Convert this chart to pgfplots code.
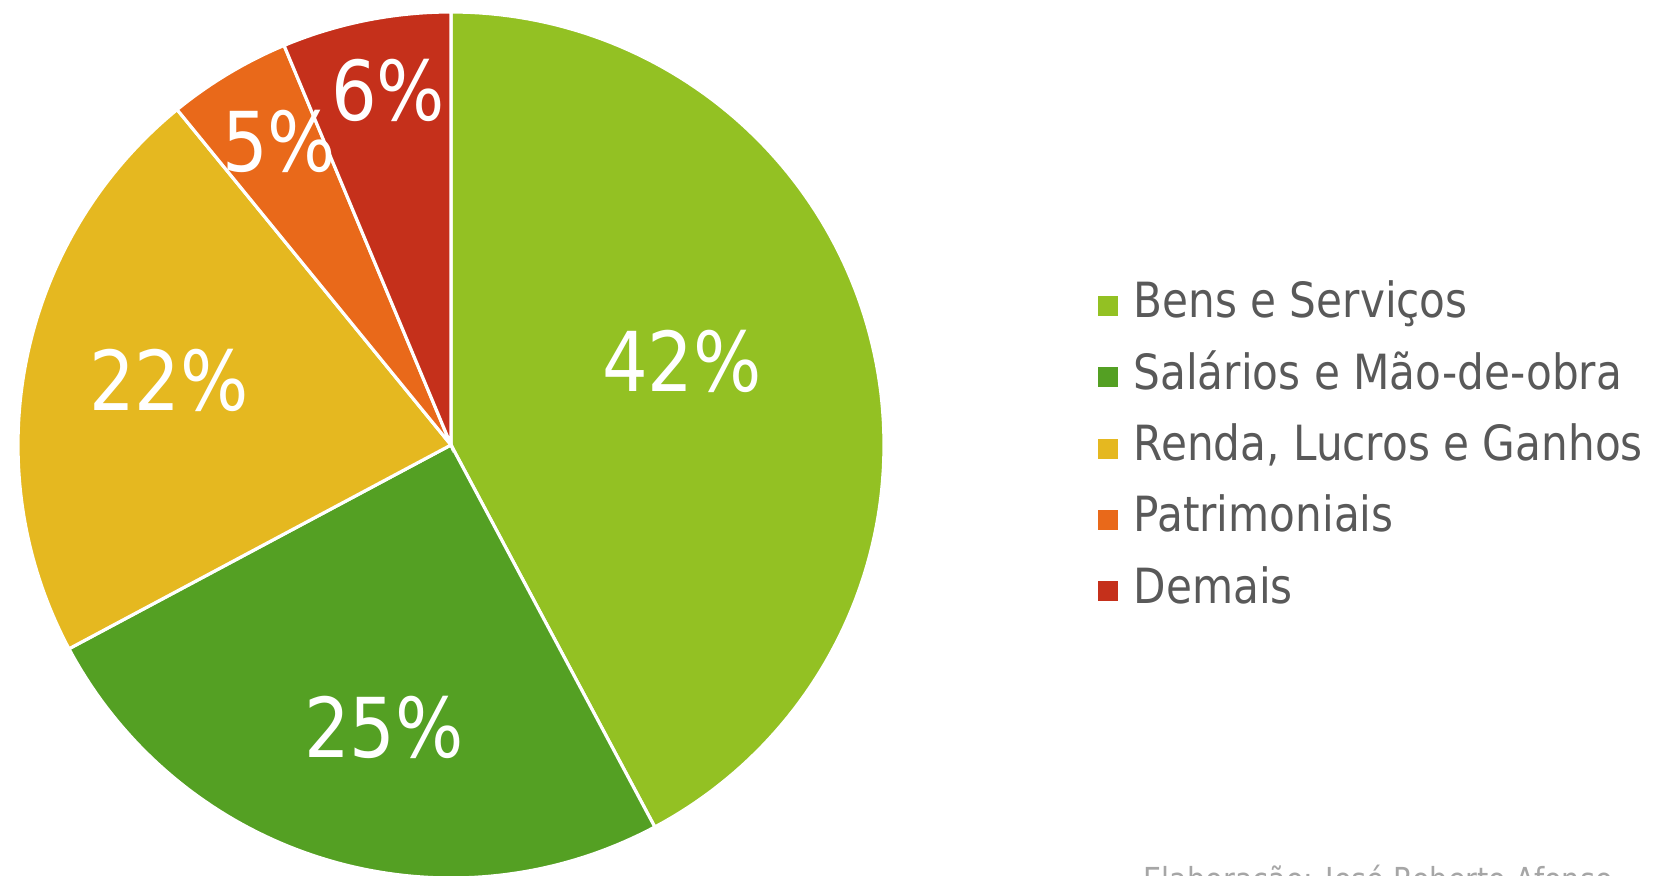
\documentclass[border=0pt]{standalone}
\usepackage{pgfplots}
\pgfplotsset{compat=1.18}
\usepackage{fontspec}
\setmainfont{DejaVu Sans}[FakeStretch=0.87]
\definecolor{cA}{RGB}{147,193,35}
\definecolor{cB}{RGB}{84,160,35}
\definecolor{cC}{RGB}{229,184,32}
\definecolor{cD}{RGB}{233,105,26}
\definecolor{cE}{RGB}{197,48,27}
\definecolor{txt}{RGB}{89,89,89}
\begin{document}%
\begin{tikzpicture}
% shares (percent)
\pgfmathsetmacro\vA{42.2}
\pgfmathsetmacro\vB{25.0}
\pgfmathsetmacro\vC{21.9}
\pgfmathsetmacro\vD{4.6}
\pgfmathsetmacro\vE{6.3}
\pgfmathsetmacro\aO{90}
\pgfmathsetmacro\aA{\aO-3.6*\vA}
\pgfmathsetmacro\aB{\aA-3.6*\vB}
\pgfmathsetmacro\aC{\aB-3.6*\vC}
\pgfmathsetmacro\aD{\aC-3.6*\vD}
\pgfmathsetmacro\aE{\aD-3.6*\vE}
\begin{axis}[
  at={(0,0)}, anchor=south west,
  scale only axis, width=165.5mm, height=87.6mm,
  xmin=0, xmax=1655, ymin=0, ymax=876,
  hide axis, clip=true,
  legend image code/.code={\path[#1, draw=none] (0mm,-1.0mm) rectangle (2.0mm,1.0mm);\path (3.4mm,0mm);},
  legend cell align=left,
  legend style={at={(axis cs:1098,594)}, anchor=north west, draw=none, fill=none,
    inner sep=0pt, outer sep=0pt, row sep=2.33mm,
    font=\fontsize{13.8}{16}\selectfont, text=txt,
    nodes={inner sep=0pt, text height=3.6mm, text depth=1.2mm}},
]
\addplot[fill=cA, draw=white, line width=0.9pt, domain=\aA:\aO, samples=120, variable=\t]
  ({451+433*cos(\t)},{431+433*sin(\t)}) -- (axis cs:451,431) -- cycle;
\addlegendentry{Bens e Serviços}
\addplot[fill=cB, draw=white, line width=0.9pt, domain=\aB:\aA, samples=80, variable=\t]
  ({451+433*cos(\t)},{431+433*sin(\t)}) -- (axis cs:451,431) -- cycle;
\addlegendentry{Salários e Mão-de-obra}
\addplot[fill=cC, draw=white, line width=0.9pt, domain=\aC:\aB, samples=80, variable=\t]
  ({451+433*cos(\t)},{431+433*sin(\t)}) -- (axis cs:451,431) -- cycle;
\addlegendentry{Renda, Lucros e Ganhos}
\addplot[fill=cD, draw=white, line width=0.9pt, domain=\aD:\aC, samples=30, variable=\t]
  ({451+433*cos(\t)},{431+433*sin(\t)}) -- (axis cs:451,431) -- cycle;
\addlegendentry{Patrimoniais}
\addplot[fill=cE, draw=white, line width=0.9pt, domain=\aE:\aD, samples=30, variable=\t]
  ({451+433*cos(\t)},{431+433*sin(\t)}) -- (axis cs:451,431) -- cycle;
\addlegendentry{Demais}
\begin{scope}[every node/.style={text=white, font=\fontsize{23.5}{26}\selectfont, inner sep=0pt}]
\node at (axis cs:682,515) {42\%};
\node at (axis cs:384,149) {25\%};
\node at (axis cs:169,496) {22\%};
\node at (axis cs:279,735) {5\%};
\node at (axis cs:388,786) {6\%};
\end{scope}
\node[anchor=base west, inner sep=0pt, text=black!35, font=\fontsize{9.4}{11}\selectfont] at (axis cs:1143,-16) {Elaboração: José Roberto Afonso};
\end{axis}
\pgfresetboundingbox
\useasboundingbox (0,0) rectangle (165.5mm,87.6mm);
\end{tikzpicture}%
\end{document}
